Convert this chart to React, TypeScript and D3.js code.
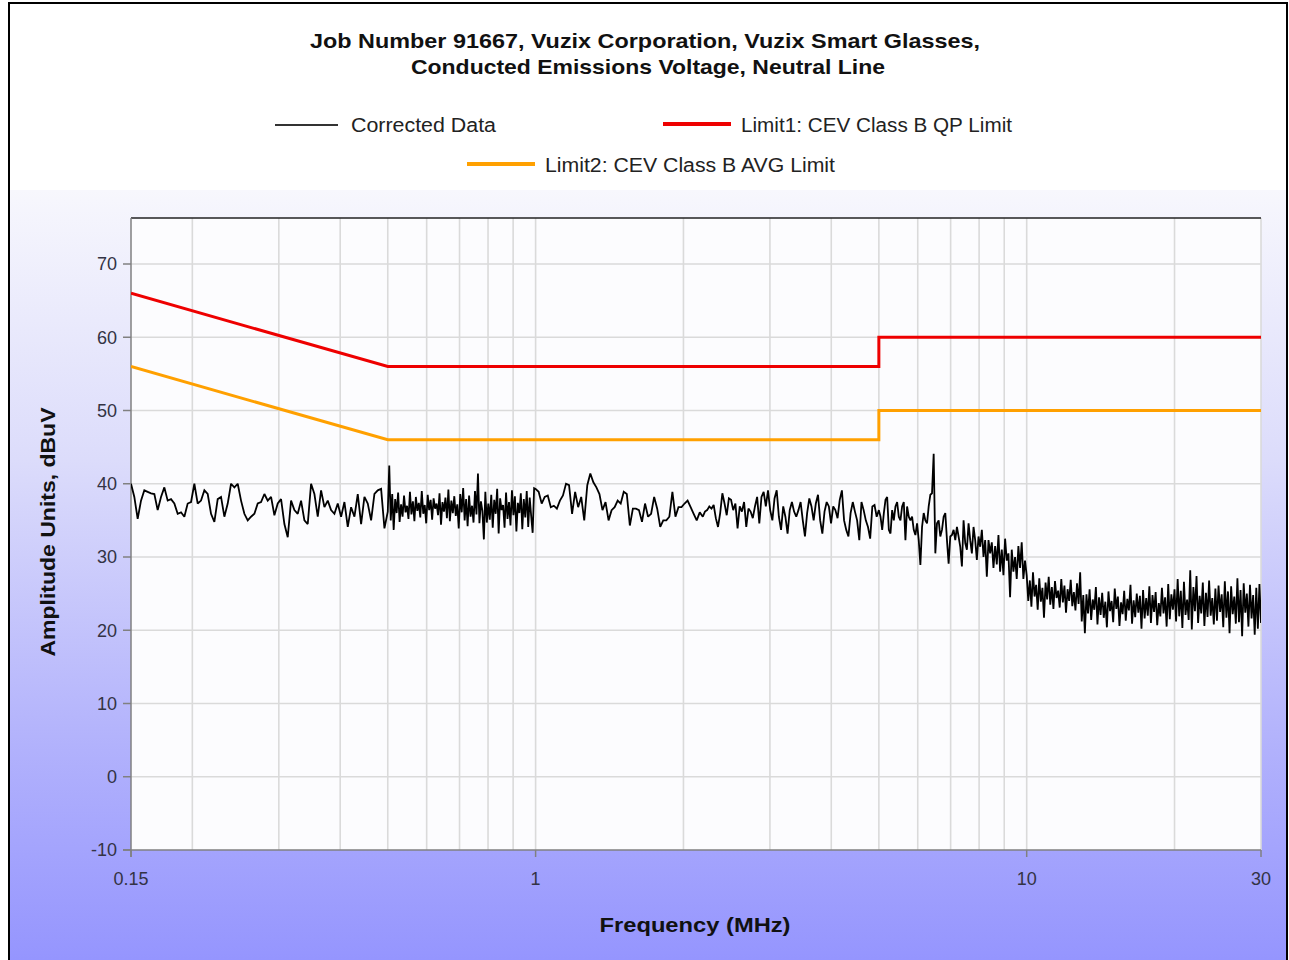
import React from 'react';
import * as d3 from 'd3';

const W = 1289;
const H = 960;

// Axis ticks / labels
const freqTicks = [0.15, 1, 10, 30];
const freqTickLabels = ['0.15', '1', '10', '30'];
const ampTicks = [-10, 0, 10, 20, 30, 40, 50, 60, 70];
const gridFreqs = [0.2, 0.3, 0.4, 0.5, 0.6, 0.7, 0.8, 0.9, 1, 2, 3, 4, 5, 6, 7, 8, 9, 10, 20, 30];
const gridAmps = [0, 10, 20, 30, 40, 50, 60, 70];

// Limit lines
const limitFreq = [0.15, 0.5, 5, 5, 30];
const qpLimit = [66, 56, 56, 60, 60];
const avgLimit = [56, 46, 46, 50, 50];

// Corrected data, read segment by segment (MHz bounds of each sweep segment)
const segmentBounds = [0.15, 0.5, 1.0, 2.19, 5, 10, 30];

const seg1 = [40, 38.2, 35.2, 37.7, 39.1, 38.9, 38.7, 38.6, 36.4, 38.2, 39.5, 37.7, 37.9, 37.3, 35.9, 36.1, 35.5, 37.3, 37.5, 40,
  37.3, 37.7, 39.1, 38.6, 35.9, 34.8, 37.9, 38.2, 35.5, 37.3, 40, 39.5, 40, 37.7, 35.9, 35, 35.5, 35.9, 37.3, 37.5,
  38.6, 37.7, 38.2, 35.7, 37.3, 37.9, 34.5, 32.7, 37.7, 36.4, 35.9, 37.7, 35, 34.5, 40, 38.6, 35.5, 39.1, 36.8, 37.7,
  36.4, 35.9, 37.3, 35.5, 37.5, 34.1, 36.8, 35.5, 38.6, 34.5, 38.2, 37.3, 35, 38.6, 39.1, 39.3, 33.9];

const seg2 = [36.2, 42.5, 35.0, 38.6, 33.7, 37.9, 36.0, 38.8, 34.8, 37.2,
  35.5, 38.4, 36.1, 37.0, 35.2, 38.9, 35.8, 37.6, 34.9, 38.2,
  36.3, 37.4, 35.4, 39.0, 35.9, 37.1, 34.6, 38.5, 36.4, 37.8,
  35.1, 38.0, 36.6, 37.3, 35.7, 38.7, 34.4, 37.5, 36.2, 38.1,
  35.3, 39.2, 34.9, 37.7, 36.0, 38.3, 35.6, 37.2, 33.9, 38.6,
  36.1, 39.4, 35.0, 37.9, 34.2, 38.4, 35.5, 37.0, 34.7, 39.0,
  35.8, 41.4, 34.6, 37.6, 36.3, 32.4, 38.9, 34.7, 37.3, 35.1,
  38.5, 34.0, 37.8, 35.9, 39.3, 33.2, 38.0, 36.4, 37.1, 34.0,
  38.8, 35.2, 37.5, 34.3, 39.1, 35.7, 38.3, 33.5, 37.4, 36.0,
  38.7, 33.8, 37.9, 35.4, 39.0, 34.1, 38.1, 35.6, 33.3, 39.4];

const seg3 = [39.3, 38.9, 37.3, 38.2, 38.4, 36.8, 37, 36.6, 37.7, 38.4, 40, 39.8, 35.9, 38.9, 36.8, 38.2, 35, 39.8, 41.4, 40.2,
  39.5, 38.6, 36.4, 37.5, 35, 36.4, 36.8, 37.7, 37.3, 38.9, 38.6, 34.3, 36.6, 36.6, 36.4, 34.8, 37.3, 35.5, 35.9, 38.2,
  36.6, 34.1, 35, 35, 35.5, 38.9, 35.5, 36.8, 36.8, 37.3, 37.7, 36.8, 35.9, 35, 36.1];

const seg4 = [35.5, 36.2, 36.4, 36.9, 36.6, 37.1, 35.3, 34.1, 36, 38.7, 37.3, 35.7, 38, 37.8, 36.4, 37.3, 33.9, 36.9, 36.2, 37.5,
  34.1, 36.6, 36.2, 35.3, 36.9, 38.2, 34.6, 38.2, 38.9, 36.9, 39.1, 36.4, 35, 38, 39.1, 35.5, 33.7, 36.9, 35.5, 33.2,
  36.4, 37.5, 36.2, 35.5, 36.4, 37.5, 35, 32.8, 36, 38, 36.9, 35, 37.3, 38.5, 35, 33.2, 36.2, 37.5, 36.9, 34.6,
  36.9, 36.4, 35.3, 37.8, 39.1, 35, 33.7, 32.8, 36, 37.5, 36.2, 35, 32.3, 37.5, 36.4, 35, 34.1, 32.5, 36.9, 37.1, 35.5];

const seg5 = [36.4, 35.5, 33.7, 36, 37.8, 38.2, 33.7, 33.2, 36.4, 35, 36.9, 37.5, 35.5, 35, 36.9, 37.5, 32.3, 36.9, 35.5, 35,
  35.5, 33.7, 33, 34.6, 32.3, 28.9, 34.1, 36, 35, 34.6, 36.9, 38.5, 38.7, 44.1, 30.5, 34.6, 35, 32.8, 33.7, 35.5,
  36, 32.3, 29.1, 32.8, 33, 33.7, 32.3, 34.1, 32.8, 31.4, 28.7, 35, 31.9, 31, 34.6, 32.3, 30.5, 34.1, 32.3, 29.6,
  32.8, 31.4, 33.7, 30, 32.3, 27.3, 32.3, 30.5, 32, 28.5, 31.5, 29, 33, 28, 31, 27.5, 32.5, 29.5, 30.5, 24.5,
  31, 28, 30, 27, 31.5, 28.5, 32, 27, 29.5];

const seg6 = [27.5, 24.0, 26.8, 23.2, 27.9, 24.6, 26.2, 22.8, 27.1, 23.9, 25.8, 21.7, 26.5, 24.2, 27.3, 23.5, 25.9, 22.9, 26.7, 24.4,
  25.4, 23.1, 27.0, 23.8, 26.1, 22.4, 25.6, 24.0, 26.9, 23.3, 25.2, 22.7, 26.4, 23.6, 27.9, 21.2, 24.8,
  19.6, 24.9, 22.3, 25.6, 21.4, 24.2, 22.8, 25.9, 20.8, 24.5, 22.1, 25.1, 21.7, 23.9, 20.4, 25.3, 22.6, 24.0, 21.1, 25.7,
  22.9, 24.6, 20.6, 23.8, 22.2, 25.4, 21.3, 24.3, 22.7, 26.2, 20.9, 24.1, 21.8, 25.0, 22.4, 24.7, 20.2, 25.5, 21.6, 24.4,
  22.0, 26.0, 21.0, 24.8, 22.5, 25.2, 20.7, 23.7, 21.9, 25.8, 22.3, 24.5, 20.5, 26.3, 21.5, 24.9, 22.8, 25.6, 21.2, 27.0,
  21.9, 25.4, 20.3, 26.6, 22.1, 24.2, 21.4, 28.2, 20.1, 25.9, 22.6, 27.4, 21.0, 24.7, 22.3, 26.5, 20.6, 25.1, 21.8, 26.8,
  22.0, 24.4, 20.8, 25.7, 21.3, 26.1, 22.5, 24.9, 20.4, 26.7, 21.7, 25.3, 19.6, 26.0, 22.2, 24.6, 20.9, 27.1, 21.1, 25.5,
  19.2, 26.4, 22.4, 25.0, 20.5, 26.2, 21.6, 24.8, 19.4, 25.8, 20.2, 26.3, 21.0];

const segments = [seg1, seg2, seg3, seg4, seg5, seg6];

// Plot area
const PL = 131, PR = 1261, PT = 218, PB = 850;

export default function App() {
  const x = d3.scaleLog().domain([0.15, 30]).range([PL, PR]);
  const y = d3.scaleLinear().domain([-10, 76.28]).range([PB, PT]);

  // Build points: each segment spaced on the log axis between its bounds
  const points: [number, number][] = [];
  segments.forEach((vals, si) => {
    const f0 = segmentBounds[si];
    const f1 = segmentBounds[si + 1];
    const last = si === segments.length - 1;
    const n = vals.length;
    vals.forEach((v, i) => {
      const t = last ? i / (n - 1) : i / n;
      const f = f0 * Math.pow(f1 / f0, t);
      points.push([f, v]);
    });
  });

  const line = d3.line<[number, number]>().x(d => x(d[0])).y(d => y(d[1]));
  const dataPath = line(points) || '';
  const qpPath = line(limitFreq.map((f, i) => [f, qpLimit[i]] as [number, number])) || '';
  const avgPath = line(limitFreq.map((f, i) => [f, avgLimit[i]] as [number, number])) || '';

  const font = '"Liberation Sans", Arial, sans-serif';

  return (
    <svg width={W} height={H} style={{ position: 'absolute', left: 0, top: 0, fontFamily: font }}>
      <defs>
        <linearGradient id="bg" x1="0" y1="0" x2="0" y2="1">
          <stop offset="0%" stopColor="#f7f7fd" />
          <stop offset="35%" stopColor="#dcdcfb" />
          <stop offset="70%" stopColor="#b4b4fc" />
          <stop offset="100%" stopColor="#9595fe" />
        </linearGradient>
        <clipPath id="plotClip">
          <rect x={PL} y={PT} width={PR - PL} height={PB - PT} />
        </clipPath>
      </defs>
      <rect x={0} y={0} width={W} height={H} fill="#ffffff" />
      <rect x={10} y={190} width={W - 12} height={H - 190} fill="url(#bg)" />
      <rect x={9} y={3} width={1278} height={980} fill="none" stroke="#000" strokeWidth={2} />

      {/* Title */}
      <text x={645} y={48} textAnchor="middle" fontWeight="bold" fontSize={21} fill="#111" textLength={670} lengthAdjust="spacingAndGlyphs">
        Job Number 91667, Vuzix Corporation, Vuzix Smart Glasses,
      </text>
      <text x={648} y={74} textAnchor="middle" fontWeight="bold" fontSize={21} fill="#111" textLength={474} lengthAdjust="spacingAndGlyphs">
        Conducted Emissions Voltage, Neutral Line
      </text>

      {/* Legend */}
      <line x1={275} x2={338} y1={125} y2={125} stroke="#333" strokeWidth={2} />
      <text x={351} y={132} fontSize={20} fill="#222" textLength={145} lengthAdjust="spacingAndGlyphs">Corrected Data</text>
      <line x1={663} x2={731} y1={124} y2={124} stroke="#ee0000" strokeWidth={4} />
      <text x={741} y={132} fontSize={20} fill="#222" textLength={271} lengthAdjust="spacingAndGlyphs">Limit1: CEV Class B QP Limit</text>
      <line x1={467} x2={535} y1={164} y2={164} stroke="#ffa000" strokeWidth={4} />
      <text x={545} y={172} fontSize={20} fill="#222" textLength={290} lengthAdjust="spacingAndGlyphs">Limit2: CEV Class B AVG Limit</text>

      {/* Plot area */}
      <rect x={PL} y={PT} width={PR - PL} height={PB - PT} fill="#fcfcfe" />
      {gridFreqs.map(f => (
        <line key={'gx' + f} x1={x(f)} x2={x(f)} y1={PT} y2={PB} stroke="#dadada" strokeWidth={1.6} />
      ))}
      {gridAmps.map(a => (
        <line key={'gy' + a} x1={PL} x2={PR} y1={y(a)} y2={y(a)} stroke="#dadada" strokeWidth={1.6} />
      ))}
      <line x1={PL} x2={PR} y1={PT} y2={PT} stroke="#222" strokeWidth={1.5} />
      <line x1={PL} x2={PL} y1={PT} y2={PB + 7} stroke="#808080" strokeWidth={1.5} />
      <line x1={PL - 8} x2={PR} y1={PB} y2={PB} stroke="#808080" strokeWidth={1.5} />

      {/* Y ticks */}
      {ampTicks.map(a => (
        <g key={'yt' + a}>
          <line x1={PL - 8} x2={PL} y1={y(a)} y2={y(a)} stroke="#808080" strokeWidth={1.5} />
          <text x={117} y={y(a)} dy="0.36em" textAnchor="end" fontSize={18} fill="#333344">{a}</text>
        </g>
      ))}
      {/* X ticks */}
      {freqTicks.map((f, i) => (
        <g key={'xt' + f}>
          <line x1={x(f)} x2={x(f)} y1={PB} y2={PB + 7} stroke="#808080" strokeWidth={1.5} />
          <text x={x(f)} y={885} textAnchor="middle" fontSize={18} fill="#333344">{freqTickLabels[i]}</text>
        </g>
      ))}

      {/* Series */}
      <g clipPath="url(#plotClip)">
        <path d={avgPath} fill="none" stroke="#ffa000" strokeWidth={3} />
        <path d={qpPath} fill="none" stroke="#ee0000" strokeWidth={3} />
        <path d={dataPath} fill="none" stroke="#000" strokeWidth={1.8} strokeLinejoin="miter" strokeMiterlimit={2} />
      </g>

      {/* Axis titles */}
      <text x={695} y={932} textAnchor="middle" fontWeight="bold" fontSize={20} fill="#111" textLength={191} lengthAdjust="spacingAndGlyphs">
        Frequency (MHz)
      </text>
      <text transform="translate(55,532) rotate(-90)" textAnchor="middle" fontWeight="bold" fontSize={20} fill="#111" textLength={249} lengthAdjust="spacingAndGlyphs">
        Amplitude Units, dBuV
      </text>
    </svg>
  );
}
